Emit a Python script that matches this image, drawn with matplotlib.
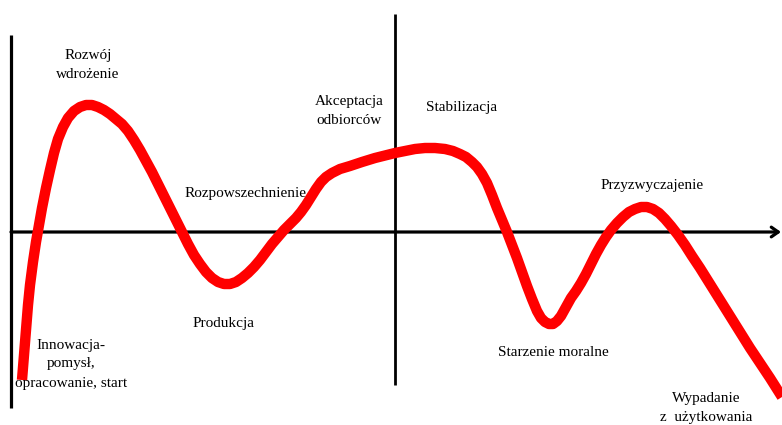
import matplotlib
matplotlib.use("Agg")
import matplotlib.pyplot as plt

# Curve (pixel-space data of the reference chart: x to the right, y downward)
curve_x = [22, 24, 26, 28, 30, 33, 36, 39, 42, 46, 50, 54, 58, 63, 68, 74, 80, 86,
           92, 98, 104, 110, 116, 122, 128, 134, 140, 146, 152, 158, 164, 170, 176,
           182, 188, 194, 200, 206, 212, 218, 224, 230, 236, 242, 248, 254, 260,
           266, 272, 278, 284, 290, 296, 301, 306, 311, 316, 321, 326, 332, 340,
           350, 362, 375, 387, 395, 405, 415, 425, 435, 445, 453, 460, 466, 472,
           477, 482, 487, 492, 497, 502, 507, 512, 517, 522, 527, 532, 537, 541,
           545, 549, 553, 557, 561, 566, 571, 576, 581, 586, 591, 596, 601, 606,
           611, 617, 623, 629, 635, 641, 647, 653, 659, 665, 671, 678, 685, 692,
           700, 710, 720, 730, 740, 750, 760, 770, 782]
curve_y = [380, 355, 330, 305, 285, 262, 242, 225, 208, 188, 170, 153, 139, 127,
           118, 111, 107, 105, 105, 107, 110, 114, 119, 124, 131, 140, 150, 161,
           172, 184, 196, 208, 220, 232, 244, 255, 264, 272, 278, 282, 284, 284,
           282, 278, 273, 267, 260, 252, 244, 237, 230, 224, 218, 212, 205, 197,
           189, 182, 177, 173, 169, 166, 162, 158, 155, 153, 151, 149, 148, 148,
           149, 151, 154, 157, 162, 167, 174, 183, 195, 208, 220, 232, 245, 258,
           272, 286, 299, 311, 318, 322, 324, 324, 321, 316, 307, 298, 291, 283,
           274, 264, 254, 245, 237, 230, 223, 217, 212, 209, 207, 207, 209, 213,
           219, 226, 235, 245, 256, 268, 284, 300, 316, 332, 348, 363, 378, 397]

# Axes lines
haxis_x = [11, 778]
haxis_y = [232, 232]
vaxis_left_x = [11, 11]
vaxis_left_y = [35, 408]
vaxis_mid_x = [395, 395]
vaxis_mid_y = [14, 385]

# Labels
labels = ["Rozwój\nwdrożenie", "Rozpowszechnienie", "Produkcja",
          "Innowacja-\npomysł,\nopracowanie, start", "Akceptacja\nodbiorców",
          "Stabilizacja", "Przyzwyczajenie", "Starzenie moralne",
          "Wypadanie\nz  użytkowania"]
label_x = [88, 246, 224, 71, 349, 462, 652, 553, 706]
label_y = [65, 193, 324, 364, 111, 107, 185, 352, 408]

fig = plt.figure(figsize=(7.82, 4.25), dpi=100)
ax = fig.add_axes([0, 0, 1, 1])
ax.set_xlim(0, 782)
ax.set_ylim(425, 0)
ax.axis("off")

ax.plot(vaxis_left_x, vaxis_left_y, color="black", lw=2.3, solid_capstyle="butt")
ax.plot(vaxis_mid_x, vaxis_mid_y, color="black", lw=2.0, solid_capstyle="butt")
ax.annotate("", xy=(haxis_x[1] + 3, haxis_y[1]), xytext=(haxis_x[0], haxis_y[0]),
            arrowprops=dict(arrowstyle="->,head_length=0.5,head_width=0.35",
                            color="black", lw=2.3, shrinkA=0, shrinkB=0))

ax.plot(curve_x, curve_y, color="#ff0000", lw=7.5, solid_joinstyle="round",
        solid_capstyle="butt", zorder=3)

for t, x, y in zip(labels, label_x, label_y):
    ax.text(x, y, t, ha="center", va="center", fontsize=11,
            family="Liberation Serif", linespacing=1.6, zorder=4)

fig.savefig("out.png", dpi=100)
